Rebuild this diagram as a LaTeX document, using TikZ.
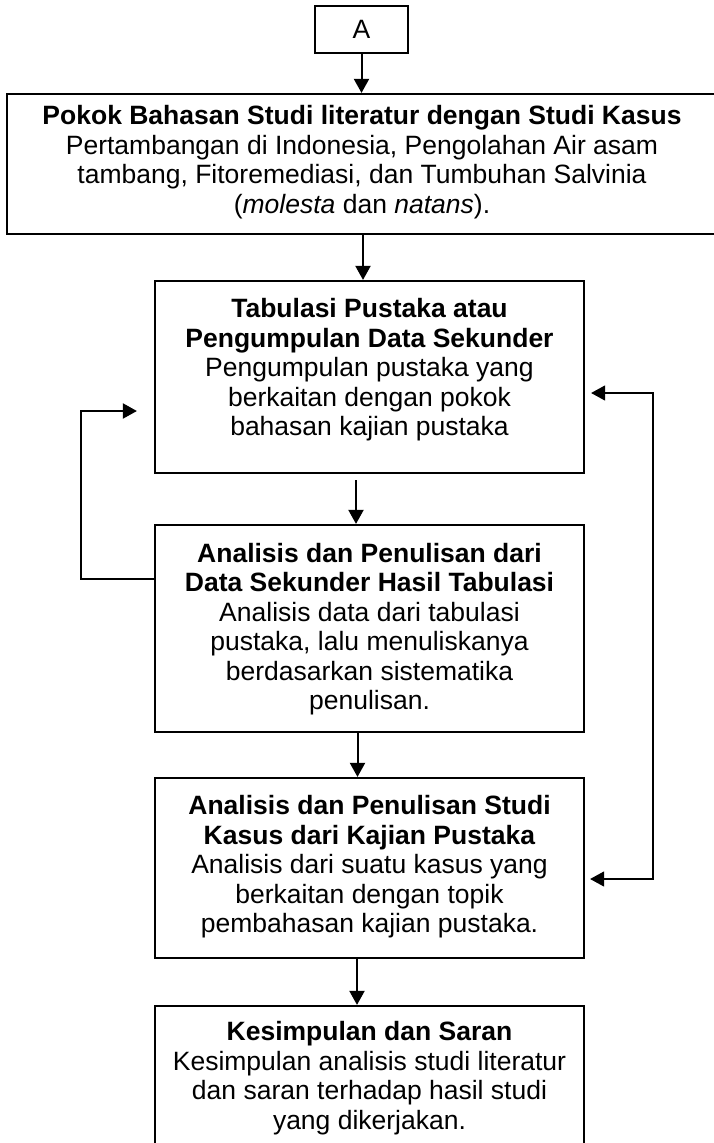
\documentclass[tikz,border=0pt]{standalone}
\usepackage{fontspec}
\setmainfont{Liberation Sans}
\usetikzlibrary{arrows.meta}
\begin{document}
\begin{tikzpicture}[x=1pt,y=-1pt,
  box/.style={draw,line width=2.2pt,minimum width=429pt,inner sep=0pt},
  txt/.style={align=center,inner sep=0pt,font=\fontsize{26.5}{29.5}\selectfont},
  tip/.style={Triangle[length=14pt,width=15pt]},
  arr/.style={line width=2pt,-{Triangle[length=14pt,width=15pt]}},
]
\useasboundingbox (0,0) rectangle (713,1143);

\node[box,minimum width=93pt,minimum height=47pt,font=\fontsize{26.5}{29.5}\selectfont] (A) at (361.5,29.5) {A};

\node[box,minimum width=708pt,minimum height=140pt] (big) at (361,164) {};
\node[txt] (bigt) at (362,162) {\textbf{Pokok Bahasan Studi literatur dengan Studi Kasus}\\
Pertambangan di Indonesia, Pengolahan Air asam\\
tambang, Fitoremediasi, dan Tumbuhan Salvinia\\
(\textit{molesta} dan \textit{natans}).};

\node[box,minimum height=192pt] (box2) at (369.5,377) {};
\node[txt] (box2t) at (369.5,370) {\textbf{Tabulasi Pustaka atau}\\
\textbf{Pengumpulan Data Sekunder}\\
Pengumpulan pustaka yang\\
berkaitan dengan pokok\\
bahasan kajian pustaka};

\node[box,minimum height=207pt] (box3) at (369.5,628.5) {};
\node[txt] (box3t) at (369.5,629) {\textbf{Analisis dan Penulisan dari}\\
\textbf{Data Sekunder Hasil Tabulasi}\\
Analisis data dari tabulasi\\
pustaka, lalu menuliskanya\\
berdasarkan sistematika\\
penulisan.};

\node[box,minimum height=180pt] (box4) at (369.5,868) {};
\node[txt] (box4t) at (369.5,867) {\textbf{Analisis dan Penulisan Studi}\\
\textbf{Kasus dari Kajian Pustaka}\\
Analisis dari suatu kasus yang\\
berkaitan dengan topik\\
pembahasan kajian pustaka.};

\node[box,minimum height=174pt] (box5) at (369.5,1093) {};
\node[txt] (box5t) at (369.5,1078) {\textbf{Kesimpulan dan Saran}\\
Kesimpulan analisis studi literatur\\
dan saran terhadap hasil studi\\
yang dikerjakan.};

% main flow
\draw[arr] (A.south) -- (A.south |- big.north);
\draw[arr] ([xshift=2pt]big.south) -- ([xshift=2pt]big.south |- box2.north);
\draw[arr,shorten <=6pt] ([xshift=-13.5pt]box2.south) -- ([xshift=-13.5pt]box3.north);
\draw[arr] ([xshift=-12pt]box3.south) -- ([xshift=-12pt]box4.north);
\draw[arr] ([xshift=-12.5pt]box4.south) -- ([xshift=-12.5pt]box5.north);

% left feedback loop
\draw[arr] ([yshift=49.5pt]box3.west) -- (81,579) |- ([xshift=-17pt,yshift=-34pt]box2.west);

% right feedback loop
\draw[line width=1.3pt,{Triangle[length=14pt,width=15pt]}-{Triangle[length=14pt,width=15pt]}]
  ([xshift=6pt,yshift=-16pt]box2.east) -| (653,879) -- ([xshift=5pt,yshift=-11pt]box4.east);
\end{tikzpicture}
\end{document}
